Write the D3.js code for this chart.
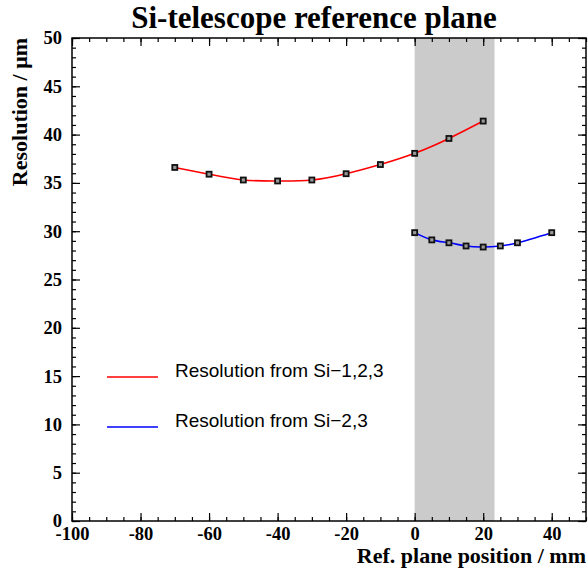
<!DOCTYPE html>
<html>
<head>
<meta charset="utf-8">
<script src="https://cdn.jsdelivr.net/npm/d3@7"></script>
<style>
  body { margin: 0; background: #fff; }
  svg { display: block; }
</style>
</head>
<body>
<div id="chart"></div>
<script>
const width = 588;
const height = 568;
const margin = { top: 38, right: 2, bottom: 47, left: 72 };

// data
const redX = [-70, -60, -50, -40, -30, -20, -10, 0, 10, 20];
const redY = [36.6, 35.9, 35.3, 35.2, 35.3, 35.95, 36.9, 38.06, 39.6, 41.4];
const blueX = [0, 5, 10, 15, 20, 25, 30, 40];
const blueY = [29.85, 29.1, 28.8, 28.47, 28.36, 28.47, 28.8, 29.85];
const bandRange = [0, 23.3];
const xTicks = [-100, -80, -60, -40, -20, 0, 20, 40];
const yTicks = [0, 5, 10, 15, 20, 25, 30, 35, 40, 45, 50];
const legendLabels = ["Resolution from Si\u22121,2,3", "Resolution from Si\u22122,3"];
const seriesColors = ["#ff0000", "#0000ff"];

const svg = d3.select("#chart").append("svg").attr("width", width).attr("height", height);

const x = d3.scaleLinear().domain([-100, 50]).range([margin.left, width - margin.right]);
const y = d3.scaleLinear().domain([0, 50]).range([height - margin.bottom, margin.top]);

const serif = "'Liberation Serif', 'Times New Roman', serif";

// gray band
svg.append("rect")
    .attr("x", x(bandRange[0]))
    .attr("y", y(50))
    .attr("width", x(bandRange[1]) - x(bandRange[0]))
    .attr("height", y(0) - y(50))
    .attr("fill", "#cbcbcb");

// axes
function styleAxis(g) {
    g.select(".domain").remove();
    g.selectAll(".tick line").attr("stroke", "#000").attr("stroke-width", 1.2);
    g.selectAll("text").attr("font-family", serif).attr("font-weight", "bold").attr("font-size", 18.5).attr("fill", "#000");
}

const xMinor = d3.range(-100, 51, 5);
const yMinor = d3.range(0, 51, 1);

svg.append("g").attr("transform", `translate(0,${y(0)})`)
    .call(d3.axisBottom(x).tickValues(xMinor).tickSize(-4).tickFormat(""))
    .call(styleAxis);
svg.append("g").attr("transform", `translate(0,${y(0)})`)
    .call(d3.axisBottom(x).tickValues(xTicks).tickSize(-8).tickPadding(5).tickFormat((d) => String(d)))
    .call(styleAxis)
    .selectAll("text").attr("dy", "0.75em");

svg.append("g").attr("transform", `translate(0,${y(50)})`)
    .call(d3.axisTop(x).tickValues(xMinor).tickSize(-4).tickFormat(""))
    .call(styleAxis);
svg.append("g").attr("transform", `translate(0,${y(50)})`)
    .call(d3.axisTop(x).tickValues(xTicks).tickSize(-8).tickFormat(""))
    .call(styleAxis);

svg.append("g").attr("transform", `translate(${x(-100)},0)`)
    .call(d3.axisLeft(y).tickValues(yMinor).tickSize(-4).tickFormat(""))
    .call(styleAxis);
svg.append("g").attr("transform", `translate(${x(-100)},0)`)
    .call(d3.axisLeft(y).tickValues(yTicks).tickSize(-8).tickPadding(10).tickFormat(d3.format("d")))
    .call(styleAxis);

svg.append("g").attr("transform", `translate(${x(50)},0)`)
    .call(d3.axisRight(y).tickValues(yMinor).tickSize(-4).tickFormat(""))
    .call(styleAxis);
svg.append("g").attr("transform", `translate(${x(50)},0)`)
    .call(d3.axisRight(y).tickValues(yTicks).tickSize(-8).tickFormat(""))
    .call(styleAxis);

// frame
svg.append("rect")
    .attr("x", x(-100)).attr("y", y(50))
    .attr("width", x(50) - x(-100)).attr("height", y(0) - y(50))
    .attr("fill", "none").attr("stroke", "#000").attr("stroke-width", 1.5);

// curves
const line = d3.line().x((d) => x(d[0])).y((d) => y(d[1])).curve(d3.curveNatural);
const series = [d3.zip(redX, redY), d3.zip(blueX, blueY)];

series.forEach((pts, i) => {
    svg.append("path")
        .datum(pts)
        .attr("d", line)
        .attr("fill", "none")
        .attr("stroke", seriesColors[i])
        .attr("stroke-width", 1.6);
    svg.append("g").selectAll("rect")
        .data(pts)
        .join("rect")
        .attr("x", (d) => x(d[0]) - 2.5)
        .attr("y", (d) => y(d[1]) - 2.5)
        .attr("width", 5)
        .attr("height", 5)
        .attr("fill", "#999")
        .attr("stroke", "#111")
        .attr("stroke-width", 1.8);
});

// legend
legendLabels.forEach((label, i) => {
    const ly = 377 + i * 50;
    svg.append("line")
        .attr("x1", 107).attr("x2", 158)
        .attr("y1", ly).attr("y2", ly)
        .attr("stroke", seriesColors[i]).attr("stroke-width", 1.3);
    svg.append("text")
        .attr("x", 175).attr("y", ly)
        .attr("dy", "0.0em")
        .attr("font-family", "'Liberation Sans', Arial, sans-serif")
        .attr("font-size", 19)
        .attr("fill", "#000")
        .text(label);
});

// titles
svg.append("text")
    .attr("x", 314).attr("y", 28)
    .attr("text-anchor", "middle")
    .attr("font-family", serif).attr("font-weight", "bold").attr("font-size", 31)
    .text("Si-telescope reference plane");

svg.append("text")
    .attr("x", x(50)).attr("y", 563)
    .attr("text-anchor", "end")
    .attr("font-family", serif).attr("font-weight", "bold").attr("font-size", 22)
    .text("Ref. plane position / mm");

svg.append("text")
    .attr("transform", `translate(27,${y(50)}) rotate(-90)`)
    .attr("text-anchor", "end")
    .attr("font-family", serif).attr("font-weight", "bold").attr("font-size", 22)
    .text("Resolution / \u03bcm");
</script>
</body>
</html>
